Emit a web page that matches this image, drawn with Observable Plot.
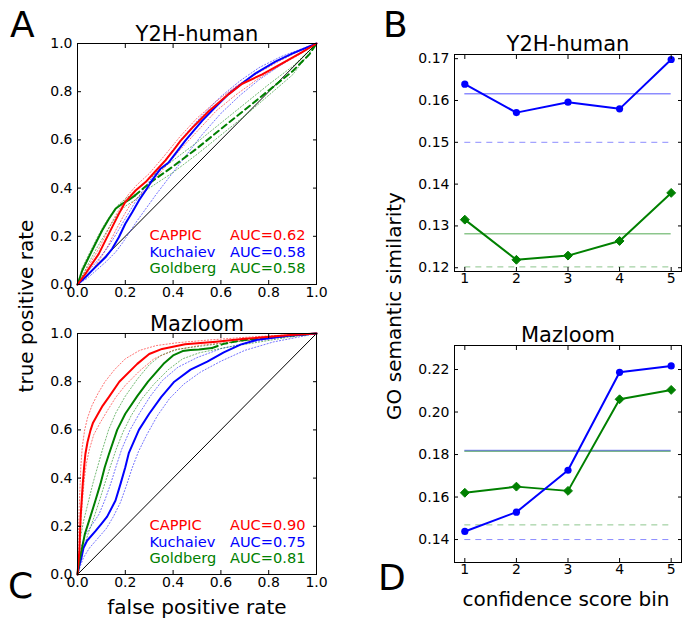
<!DOCTYPE html>
<html><head><meta charset="utf-8">
<script src="https://cdn.jsdelivr.net/npm/d3@7"></script>
<script src="https://cdn.jsdelivr.net/npm/@observablehq/plot@0.6"></script>
<style>
body{margin:0;background:#fff;}
#fig{position:relative;width:685px;height:625px;font-family:"DejaVu Sans",sans-serif;overflow:hidden;}
#fig > svg{position:absolute;}
</style></head><body><div id="fig"></div>
<script>
// ---------- DATA ----------
const rocTicks = [0, 0.2, 0.4, 0.6, 0.8, 1.0];
const diagonal = [0, 1];
const methods = ["CAPPIC", "Kuchaiev", "Goldberg"];
const colors = ["#ff0000", "#0000ff", "#008000"];
const aucY2H = ["AUC=0.62", "AUC=0.58", "AUC=0.58"];
const aucMaz = ["AUC=0.90", "AUC=0.75", "AUC=0.81"];

// Panel A (Y2H-human) ROC curves [fpr, tpr]
const cappicA = [[0,0],[0.033,0.044],[0.061,0.086],[0.089,0.127],[0.117,0.183],[0.145,0.238],[0.173,0.293],[0.2,0.342],[0.243,0.39],[0.285,0.425],[0.326,0.47],[0.368,0.515],[0.4,0.555],[0.43,0.595],[0.48,0.65],[0.55,0.72],[0.633,0.79],[0.689,0.833],[0.773,0.872],[0.856,0.918],[0.94,0.964],[1,1]];
const cappicA_hi = [[0,0],[0.03,0.05],[0.06,0.1],[0.09,0.15],[0.12,0.21],[0.15,0.27],[0.18,0.32],[0.21,0.37],[0.25,0.415],[0.3,0.46],[0.36,0.53],[0.43,0.615],[0.5,0.69],[0.58,0.76],[0.66,0.82],[0.75,0.875],[0.85,0.93],[0.93,0.97],[1,1]];
const cappicA_lo = [[0,0],[0.04,0.035],[0.07,0.07],[0.1,0.115],[0.13,0.165],[0.16,0.225],[0.19,0.28],[0.22,0.33],[0.26,0.37],[0.3,0.41],[0.36,0.48],[0.43,0.56],[0.5,0.635],[0.58,0.72],[0.66,0.785],[0.75,0.85],[0.85,0.91],[0.93,0.955],[1,1]];
const kuchaievA = [[0,0],[0.033,0.03],[0.075,0.072],[0.117,0.113],[0.145,0.148],[0.173,0.196],[0.2,0.252],[0.229,0.3],[0.257,0.349],[0.285,0.39],[0.312,0.432],[0.347,0.48],[0.38,0.505],[0.452,0.598],[0.522,0.68],[0.577,0.736],[0.633,0.791],[0.689,0.835],[0.745,0.876],[0.828,0.925],[0.898,0.958],[1,1]];
const kuchaievA_hi = [[0,0],[0.04,0.05],[0.08,0.095],[0.12,0.145],[0.15,0.19],[0.18,0.24],[0.21,0.29],[0.24,0.34],[0.28,0.4],[0.32,0.455],[0.37,0.52],[0.44,0.61],[0.52,0.7],[0.6,0.78],[0.68,0.845],[0.76,0.9],[0.85,0.945],[0.93,0.975],[1,1]];
const kuchaievA_lo = [[0,0],[0.04,0.025],[0.08,0.06],[0.12,0.095],[0.16,0.135],[0.19,0.175],[0.22,0.22],[0.25,0.265],[0.29,0.32],[0.33,0.375],[0.38,0.44],[0.45,0.53],[0.52,0.62],[0.6,0.71],[0.68,0.785],[0.76,0.85],[0.85,0.91],[0.93,0.96],[1,1]];
const goldbergA = [[0,0],[0.02,0.058],[0.047,0.113],[0.075,0.169],[0.103,0.224],[0.131,0.272],[0.159,0.314],[0.187,0.335],[0.215,0.351],[0.24,0.369]];
const goldbergA_ext = [[0.24,0.369],[0.3,0.42],[0.4,0.49],[0.5,0.565],[0.6,0.645],[0.7,0.725],[0.8,0.805],[0.9,0.885],[0.97,0.955],[1,1]];
const goldbergA_hi = [[0,0],[0.02,0.07],[0.05,0.13],[0.08,0.19],[0.11,0.245],[0.14,0.29],[0.17,0.33],[0.2,0.355],[0.24,0.385],[0.3,0.44],[0.4,0.515],[0.5,0.59],[0.6,0.67],[0.7,0.75],[0.8,0.83],[0.9,0.905],[1,1]];
const goldbergA_lo = [[0,0],[0.025,0.045],[0.05,0.095],[0.08,0.15],[0.11,0.2],[0.14,0.25],[0.17,0.295],[0.2,0.325],[0.24,0.35],[0.3,0.4],[0.4,0.465],[0.5,0.54],[0.6,0.62],[0.7,0.7],[0.8,0.785],[0.9,0.87],[1,1]];

// Panel C (Mazloom) ROC curves
const cappicC = [[0,0],[0.004,0.05],[0.008,0.1],[0.013,0.24],[0.022,0.376],[0.028,0.45],[0.033,0.5],[0.042,0.55],[0.054,0.597],[0.065,0.63],[0.082,0.66],[0.105,0.7],[0.131,0.736],[0.175,0.8],[0.25,0.874],[0.3,0.915],[0.354,0.936],[0.45,0.955],[0.58,0.966],[0.7,0.978],[0.79,0.985],[0.89,0.994],[1,1]];
const cappicC_hi = [[0,0],[0.003,0.15],[0.008,0.3],[0.014,0.45],[0.02,0.53],[0.03,0.6],[0.042,0.65],[0.06,0.7],[0.085,0.75],[0.115,0.8],[0.155,0.85],[0.2,0.895],[0.26,0.93],[0.33,0.95],[0.42,0.962],[0.55,0.973],[0.7,0.984],[0.85,0.993],[1,1]];
const cappicC_lo = [[0,0],[0.006,0.08],[0.012,0.18],[0.02,0.3],[0.029,0.4],[0.037,0.46],[0.05,0.52],[0.068,0.58],[0.095,0.63],[0.125,0.68],[0.16,0.735],[0.2,0.785],[0.26,0.845],[0.32,0.895],[0.4,0.93],[0.52,0.952],[0.68,0.968],[0.85,0.985],[1,1]];
const kuchaievC = [[0,0],[0.008,0.04],[0.017,0.072],[0.025,0.11],[0.04,0.14],[0.075,0.18],[0.1,0.21],[0.124,0.24],[0.159,0.307],[0.18,0.376],[0.2,0.445],[0.215,0.505],[0.257,0.6],[0.3,0.667],[0.35,0.736],[0.405,0.8],[0.473,0.85],[0.543,0.883],[0.612,0.922],[0.682,0.954],[0.752,0.974],[0.89,0.992],[1,1]];
const kuchaievC_hi = [[0,0],[0.006,0.06],[0.015,0.115],[0.03,0.16],[0.06,0.205],[0.09,0.25],[0.115,0.31],[0.14,0.38],[0.162,0.45],[0.185,0.52],[0.22,0.6],[0.26,0.67],[0.305,0.74],[0.355,0.805],[0.42,0.86],[0.5,0.9],[0.6,0.937],[0.72,0.963],[0.85,0.985],[1,1]];
const kuchaievC_lo = [[0,0],[0.01,0.03],[0.025,0.07],[0.05,0.11],[0.085,0.15],[0.12,0.19],[0.15,0.24],[0.18,0.3],[0.205,0.37],[0.228,0.44],[0.255,0.51],[0.29,0.58],[0.335,0.66],[0.385,0.73],[0.445,0.79],[0.515,0.84],[0.6,0.885],[0.7,0.93],[0.82,0.965],[1,1]];
const goldbergC = [[0,0],[0.008,0.06],[0.017,0.1],[0.031,0.169],[0.054,0.24],[0.075,0.307],[0.096,0.376],[0.114,0.445],[0.131,0.498],[0.166,0.6],[0.2,0.667],[0.25,0.74],[0.295,0.8],[0.36,0.874],[0.4,0.909],[0.44,0.927],[0.473,0.932],[0.508,0.934],[0.563,0.94]];
const goldbergC_ext = [[0.563,0.94],[0.612,0.957],[0.682,0.971],[0.75,0.978],[0.82,0.985],[0.9,0.992],[1,1]];
const goldbergC_hi = [[0,0],[0.005,0.08],[0.012,0.15],[0.025,0.22],[0.045,0.3],[0.065,0.38],[0.085,0.45],[0.105,0.52],[0.13,0.6],[0.16,0.67],[0.2,0.74],[0.25,0.81],[0.3,0.87],[0.35,0.91],[0.42,0.935],[0.52,0.948],[0.68,0.968],[0.85,0.985],[1,1]];
const goldbergC_lo = [[0,0],[0.012,0.06],[0.025,0.11],[0.045,0.17],[0.07,0.24],[0.093,0.31],[0.115,0.38],[0.138,0.45],[0.162,0.52],[0.19,0.59],[0.225,0.66],[0.27,0.73],[0.32,0.79],[0.38,0.85],[0.44,0.895],[0.51,0.92],[0.62,0.942],[0.75,0.963],[0.88,0.984],[1,1]];

// Panels B / D: GO semantic similarity by confidence score bin
const bins = [1, 2, 3, 4, 5];
const kuchaievB = [0.1639, 0.1571, 0.1596, 0.1580, 0.1698];
const goldbergB = [0.1315, 0.1219, 0.1229, 0.1264, 0.1379];
const refB = {blueSolid: 0.1616, blueDash: 0.1500, greenSolid: 0.1281, greenDash: 0.1202};
const yTicksB = [0.12, 0.13, 0.14, 0.15, 0.16, 0.17];
const kuchaievD = [0.1438, 0.1529, 0.1726, 0.2187, 0.2217];
const goldbergD = [0.1620, 0.1649, 0.1629, 0.2060, 0.2104];
const refD = {blueSolid: 0.1819, blueDash: 0.1400, greenSolid: 0.1816, greenDash: 0.1469};
const yTicksD = [0.14, 0.16, 0.18, 0.20, 0.22];

// ---------- DRAWING ----------
const fig = document.getElementById("fig");
const FONT = "DejaVu Sans";
const px = d => d[0], py = d => d[1];

function frameAxes(xt, yt, xfmt, yfmt, pad) {
  return [
    Plot.frame({stroke: "black", strokeWidth: 1}),
    Plot.axisX({ticks: xt, anchor: "bottom", tickSize: 0, tickPadding: pad, tickFormat: xfmt, label: null, fontSize: 14}),
    Plot.axisY({ticks: yt, anchor: "left", tickSize: 0, tickPadding: 5, tickFormat: yfmt, label: null, fontSize: 14}),
    Plot.axisX({ticks: xt, anchor: "bottom", tickSize: 4, dy: -4, fill: "none", tickFormat: () => "", label: null}),
    Plot.axisX({ticks: xt, anchor: "top", tickSize: 4, dy: 4, fill: "none", tickFormat: () => "", label: null}),
    Plot.axisY({ticks: yt, anchor: "left", tickSize: 4, dx: 4, fill: "none", tickFormat: () => "", label: null}),
    Plot.axisY({ticks: yt, anchor: "right", tickSize: 4, dx: -4, fill: "none", tickFormat: () => "", label: null})
  ];
}

function place(svg, left, top) {
  svg.style.position = "absolute";
  svg.style.left = left + "px";
  svg.style.top = top + "px";
  fig.appendChild(svg);
}

function band(data, color) {
  return Plot.line(data, {x: px, y: py, stroke: color, strokeWidth: 1, strokeDasharray: "1.2,2", strokeOpacity: 0.55});
}

function rocPanel(o) {
  const marks = [
    Plot.line(diagonal, {x: d => d, y: d => d, stroke: "black", strokeWidth: 1}),
    band(o.c_hi, colors[0]), band(o.c_lo, colors[0]),
    band(o.k_hi, colors[1]), band(o.k_lo, colors[1]),
    band(o.g_hi, colors[2]), band(o.g_lo, colors[2]),
    Plot.line(o.g_ext, {x: px, y: py, stroke: colors[2], strokeWidth: 2, strokeDasharray: "6,4"}),
    Plot.line(o.k, {x: px, y: py, stroke: colors[1], strokeWidth: 2}),
    Plot.line(o.g, {x: px, y: py, stroke: colors[2], strokeWidth: 2}),
    Plot.line(o.c, {x: px, y: py, stroke: colors[0], strokeWidth: 2}),
    Plot.dot(o.g.slice(1, -1), {x: px, y: py, symbol: "plus", r: 2.2, fill: colors[2]}),
    Plot.dot(o.g_ext.slice(0, 1), {x: px, y: py, symbol: "times", r: 3, fill: colors[2]}),
    Plot.dot(o.g_ext.slice(1, -1), {x: px, y: py, symbol: "times", r: 1.8, fill: colors[2], fillOpacity: 0.7}),
    ...frameAxes(rocTicks, rocTicks, d3.format(".1f"), d3.format(".1f"), 3),
    Plot.text([o.title], {text: d => d, frameAnchor: "top", dy: -3, lineAnchor: "bottom", fontSize: 21, fill: "black"})
  ];
  const offs = [45, 28, 12];
  methods.forEach((m, i) => {
    marks.push(Plot.text([m], {text: d => d, frameAnchor: "bottom-left", dx: 72, dy: -offs[i], textAnchor: "start", lineAnchor: "bottom", fontSize: 14.6, fill: colors[i]}));
    marks.push(Plot.text([o.auc[i]], {text: d => d, frameAnchor: "bottom-right", dx: -11, dy: -offs[i], textAnchor: "end", lineAnchor: "bottom", fontSize: 14.6, fill: colors[i]}));
  });
  return Plot.plot({
    width: 340, height: 300,
    marginLeft: 77, marginRight: 24, marginTop: o.mt, marginBottom: o.mb,
    x: {domain: [0, 1]}, y: {domain: [0, 1]},
    style: {fontFamily: FONT, fontSize: "14px", background: "transparent", color: "black", overflow: "visible"},
    marks
  });
}

place(rocPanel({title: "Y2H-human", auc: aucY2H, mt: 43, mb: 16,
  c: cappicA, c_hi: cappicA_hi, c_lo: cappicA_lo,
  k: kuchaievA, k_hi: kuchaievA_hi, k_lo: kuchaievA_lo,
  g: goldbergA, g_ext: goldbergA_ext, g_hi: goldbergA_hi, g_lo: goldbergA_lo}), 0, 0);
place(rocPanel({title: "Mazloom", auc: aucMaz, mt: 33, mb: 26,
  c: cappicC, c_hi: cappicC_hi, c_lo: cappicC_lo,
  k: kuchaievC, k_hi: kuchaievC_hi, k_lo: kuchaievC_lo,
  g: goldbergC, g_ext: goldbergC_ext, g_hi: goldbergC_hi, g_lo: goldbergC_lo}), 0, 300);

function simPanel(o) {
  const kt = bins.map((b, i) => ({bin: b, v: o.k[i]}));
  const gt = bins.map((b, i) => ({bin: b, v: o.g[i]}));
  const rule = (v, color, dash, w, op) => Plot.ruleY([v], {y: d => d, x1: () => bins[0], x2: () => bins[bins.length - 1], stroke: color, strokeOpacity: op, strokeWidth: w, strokeDasharray: dash});
  return Plot.plot({
    width: 345, height: 300,
    marginLeft: 114, marginRight: 4, marginTop: o.mt, marginBottom: o.mb,
    x: {domain: [0.8, 5.2]}, y: {domain: o.ydom},
    style: {fontFamily: FONT, fontSize: "14px", background: "transparent", color: "black", overflow: "visible"},
    marks: [
      rule(o.ref.blueSolid, colors[1], null, 1.5, 0.45),
      rule(o.ref.greenSolid, colors[2], null, 1.5, 0.45),
      rule(o.ref.blueDash, colors[1], "6,5", 1, 0.45),
      rule(o.ref.greenDash, colors[2], "6,5", 1, 0.45),
      Plot.line(gt, {x: "bin", y: "v", stroke: colors[2], strokeWidth: 2}),
      Plot.dot(gt, {x: "bin", y: "v", symbol: "diamond2", r: 4, fill: colors[2], stroke: colors[2], strokeWidth: 1}),
      Plot.line(kt, {x: "bin", y: "v", stroke: colors[1], strokeWidth: 2}),
      Plot.dot(kt, {x: "bin", y: "v", symbol: "circle", r: 3.6, fill: colors[1]}),
      ...frameAxes(bins, o.yt, d3.format("d"), d3.format(".2f"), 2),
      Plot.text([o.title], {text: d => d, frameAnchor: "top", dy: -4, lineAnchor: "bottom", fontSize: 21, fill: "black"})
    ]
  });
}

place(simPanel({title: "Y2H-human", k: kuchaievB, g: goldbergB, ref: refB, yt: yTicksB, ydom: [0.1191, 0.1710], mt: 54, mb: 29}), 340, 0);
place(simPanel({title: "Mazloom", k: kuchaievD, g: goldbergD, ref: refD, yt: yTicksD, ydom: [0.1292, 0.2313], mt: 45, mb: 38}), 340, 300);

// ---------- Panel letters & axis titles ----------
const ov = d3.select(fig).append("svg")
  .attr("width", 685).attr("height", 625)
  .style("position", "absolute").style("left", "0px").style("top", "0px")
  .style("font-family", FONT).style("pointer-events", "none");
const labels = [
  {t: "A", x: 10, y: 37, s: 36, r: 0, a: "start"},
  {t: "B", x: 383, y: 37, s: 36, r: 0, a: "start"},
  {t: "C", x: 8, y: 598, s: 36, r: 0, a: "start"},
  {t: "D", x: 378, y: 590, s: 36, r: 0, a: "start"},
  {t: "true positive rate", x: 33, y: 306, s: 20, r: -90, a: "middle"},
  {t: "GO semantic similarity", x: 401, y: 306, s: 20, r: -90, a: "middle"},
  {t: "false positive rate", x: 197, y: 614, s: 20, r: 0, a: "middle"},
  {t: "confidence score bin", x: 566, y: 606, s: 20, r: 0, a: "middle"}
];
ov.selectAll("text").data(labels).join("text")
  .attr("transform", d => `translate(${d.x},${d.y}) rotate(${d.r})`)
  .attr("text-anchor", d => d.a)
  .attr("font-size", d => d.s)
  .attr("fill", "black")
  .text(d => d.t);
</script>
</body></html>
